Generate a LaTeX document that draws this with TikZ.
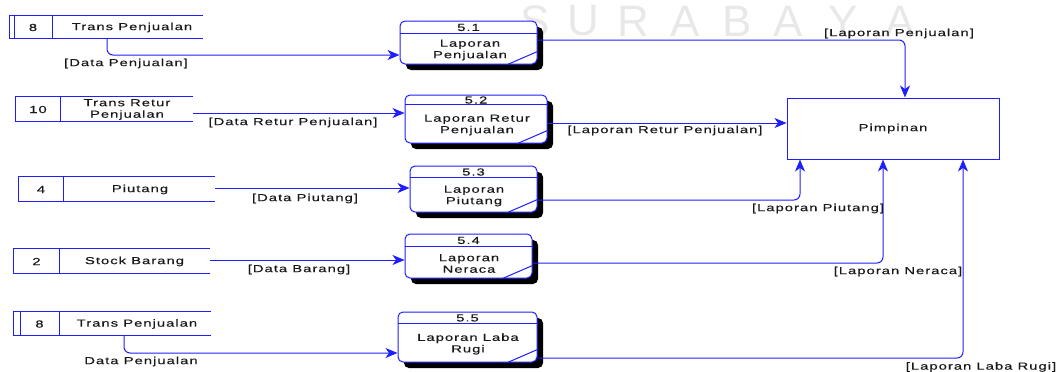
\documentclass[tikz,border=0pt]{standalone}
\usepackage{fontspec}
\setmainfont{Liberation Sans}[FakeStretch=1.45,LetterSpace=10,FakeBold=0.3]
\newfontfamily\markfont{Liberation Sans}
\usetikzlibrary{arrows.meta,shadows}
\definecolor{flow}{RGB}{30,30,255}
\definecolor{ink}{RGB}{25,25,25}
\definecolor{markgrey}{RGB}{232,232,232}

\begin{document}
\begin{tikzpicture}[x=1pt,y=-1pt,
  lbl/.style={font=\fontsize{10.2}{11.5}\selectfont, text=ink, inner sep=0pt, align=center},
  wmark/.style={font=\markfont\fontsize{44}{44}\selectfont, text=markgrey, inner sep=0pt},
  edge/.style={draw=flow, line width=1pt},
  flowline/.style={edge, rounded corners=6pt, -{Stealth[length=12pt,width=10pt,inset=3.5pt]}},
  store/.style={inner sep=0pt, minimum height=#1},
  proc/.style={edge, fill=white, rounded corners=5pt, inner sep=0pt,
    general shadow={fill=black, shadow xshift=6pt, shadow yshift=-6pt}},
  entity/.style={edge, lbl, fill=white, inner sep=0pt}
]
\useasboundingbox (0,0) rectangle (1060,372);

% watermark lettering
\foreach \ch/\px in {S/535,U/583,R/633,A/685,B/737,A/788,Y/843,A/900}
  \node[wmark] at (\px,21) {\ch};

% ---------- data stores ----------
\node[store=22pt, minimum width=193pt] (s1) at (106.5,27) {};
\node[store=24pt, minimum width=177pt] (s2) at (104.5,109) {};
\node[store=24pt, minimum width=196pt] (s3) at (117,189) {};
\node[store=24pt, minimum width=196pt] (s4) at (112,261) {};
\node[store=23pt, minimum width=197pt] (s5) at (112.5,323.5) {};

\foreach \s/\d in {s1/52,s2/60,s3/63,s4/59,s5/59}{
  \draw[edge] (\s.north east) -- (\s.north west) -- (\s.south west) -- (\s.south east);
  \draw[edge] (\s.north -| \d,0) -- (\s.south -| \d,0);
}
\draw[edge] (s1.north -| 14,0) -- (s1.south -| 14,0);
\draw[edge] (s5.north -| 20,0) -- (s5.south -| 20,0);

\node[lbl] at (33,27.5) {8};
\node[lbl] at (132,27.5) {Trans Penjualan};
\node[lbl] at (38,109.5) {10};
\node[lbl] at (127,109.5) {Trans Retur\\Penjualan};
\node[lbl] at (41,189.5) {4};
\node[lbl] at (140,189.5) {Piutang};
\node[lbl] at (36.5,261.5) {2};
\node[lbl] at (134.5,261.5) {Stock Barang};
\node[lbl] at (39.5,324) {8};
\node[lbl] at (137,324) {Trans Penjualan};

% ---------- processes ----------
\node[proc, minimum width=137pt, minimum height=43pt] (p1) at (468.5,42.5) {};
\node[proc, minimum width=142pt, minimum height=48pt] (p2) at (476,119) {};
\node[proc, minimum width=127pt, minimum height=46pt] (p3) at (473.5,189) {};
\node[proc, minimum width=127pt, minimum height=44pt] (p4) at (468.5,256) {};
\node[proc, minimum width=139pt, minimum height=50pt] (p5) at (467.5,337) {};

\foreach \p/\h in {p1/33,p2/104,p3/177,p4/246,p5/323}{
  \draw[edge] (\p.west |- 0,\h) -- (\p.east |- 0,\h);
  \draw[edge] ([xshift=-30pt]\p.south east) -- ([yshift=13pt]\p.south east);
}

\node[lbl] at (468.5,27.5) {5.1};
\node[lbl] at (470,50) {Laporan\\Penjualan};
\node[lbl] at (476,100) {5.2};
\node[lbl] at (477,125) {Laporan Retur\\Penjualan};
\node[lbl] at (473.5,172) {5.3};
\node[lbl] at (474,196) {Laporan\\Piutang};
\node[lbl] at (468.5,240.5) {5.4};
\node[lbl] at (469,263.5) {Laporan\\Neraca};
\node[lbl] at (467.5,318) {5.5};
\node[lbl] at (468,344) {Laporan Laba\\Rugi};

% ---------- external entity ----------
\node[entity, minimum width=212pt, minimum height=61pt] (pim) at (893,128.5) {Pimpinan};

% ---------- flows into processes ----------
\draw[flowline] (s1.south -| 107,0) -- (107,55) -- (p1.west |- 0,55);
\draw[flowline] (s2.east |- 0,113) -- (p2.west |- 0,113);
\draw[flowline] (s3.east |- 0,188) -- (p3.west |- 0,188);
\draw[flowline] (s4.east |- 0,260) -- (p4.west |- 0,260);
\draw[flowline] (s5.south -| 124,0) -- (124,353) -- (p5.west |- 0,353);

\node[lbl] at (126,63.5) {[Data Penjualan]};
\node[lbl] at (293,122.5) {[Data Retur Penjualan]};
\node[lbl] at (305,198.5) {[Data Piutang]};
\node[lbl] at (299,269.5) {[Data Barang]};
\node[lbl] at (141,361.5) {Data Penjualan};

% ---------- flows to Pimpinan ----------
\draw[flowline] (p1.east |- 0,40) -- (905,40) -- (pim.north -| 905,0);
\draw[flowline] (p2.east |- 0,123) -- (pim.west |- 0,123);
\draw[flowline] (p3.east |- 0,200) -- (800,200) -- (pim.south -| 800,0);
\draw[flowline] (p4.east |- 0,263) -- (883,263) -- (pim.south -| 883,0);
\draw[flowline] (p5.east |- 0,358) -- (963,358) -- (pim.south -| 963,0);

\node[lbl] at (899,33.5) {[Laporan Penjualan]};
\node[lbl] at (665,130.5) {[Laporan Retur Penjualan]};
\node[lbl] at (818,208.5) {[Laporan Piutang]};
\node[lbl] at (898,271.5) {[Laporan Neraca]};
\node[lbl] at (981,367) {[Laporan Laba Rugi]};
\end{tikzpicture}
\end{document}
